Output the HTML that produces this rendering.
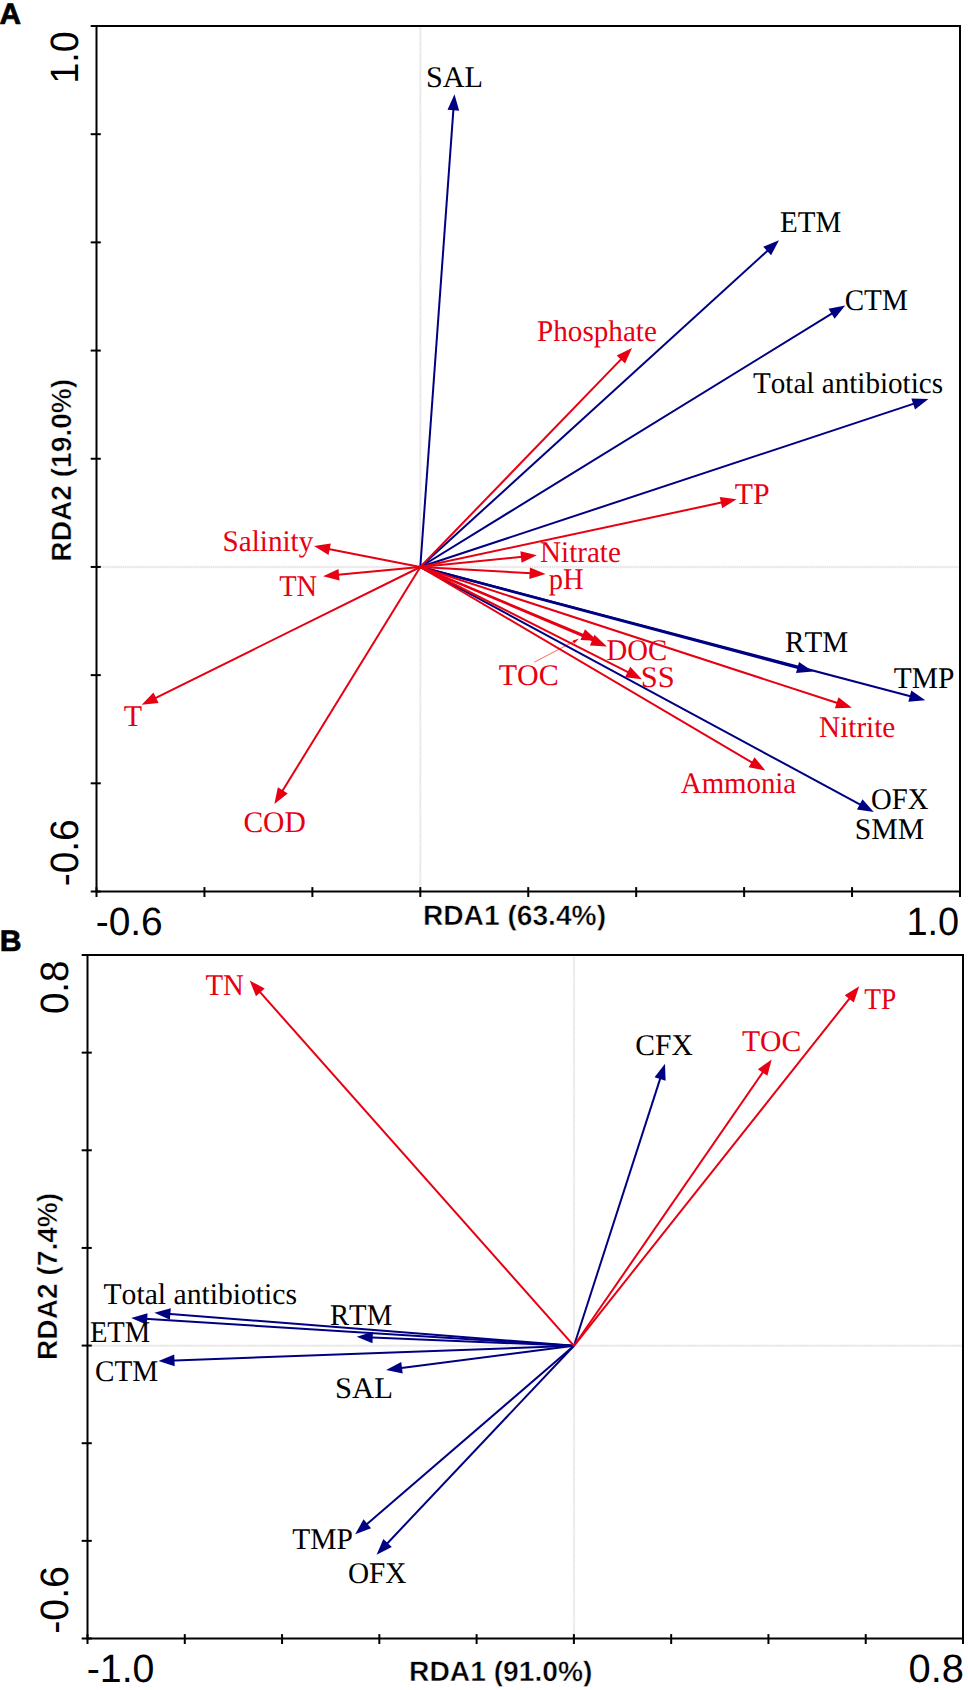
<!DOCTYPE html>
<html><head><meta charset="utf-8"><style>
html,body{margin:0;padding:0;background:#fff;overflow:hidden;width:968px;height:1690px;}
svg{display:block;}
text{font-kerning:none;text-rendering:geometricPrecision;white-space:pre;}
</style></head><body>
<svg width="968" height="1690" viewBox="0 0 968 1690">
<rect width="968" height="1690" fill="#fff"/>
<line x1="420.3" y1="26.0" x2="420.3" y2="891.5" stroke="#f4f4f4" stroke-width="2.4"/><line x1="420.3" y1="26.0" x2="420.3" y2="891.5" stroke="#e0e0e0" stroke-width="1.4" stroke-dasharray="1.1,1.1"/>
<line x1="96.5" y1="567.0" x2="960.0" y2="567.0" stroke="#f4f4f4" stroke-width="2.4"/><line x1="96.5" y1="567.0" x2="960.0" y2="567.0" stroke="#e0e0e0" stroke-width="1.4" stroke-dasharray="1.1,1.1"/>
<rect x="96.5" y="26.0" width="863.5" height="865.5" fill="none" stroke="#000" stroke-width="2.0"/><line x1="96.50" y1="887.10" x2="96.50" y2="897.00" stroke="#000" stroke-width="2.0"/><line x1="204.44" y1="887.10" x2="204.44" y2="897.00" stroke="#000" stroke-width="2.0"/><line x1="312.38" y1="887.10" x2="312.38" y2="897.00" stroke="#000" stroke-width="2.0"/><line x1="420.31" y1="887.10" x2="420.31" y2="897.00" stroke="#000" stroke-width="2.0"/><line x1="528.25" y1="887.10" x2="528.25" y2="897.00" stroke="#000" stroke-width="2.0"/><line x1="636.19" y1="887.10" x2="636.19" y2="897.00" stroke="#000" stroke-width="2.0"/><line x1="744.12" y1="887.10" x2="744.12" y2="897.00" stroke="#000" stroke-width="2.0"/><line x1="852.06" y1="887.10" x2="852.06" y2="897.00" stroke="#000" stroke-width="2.0"/><line x1="960.00" y1="887.10" x2="960.00" y2="897.00" stroke="#000" stroke-width="2.0"/><line x1="90.70" y1="26.00" x2="100.80" y2="26.00" stroke="#000" stroke-width="2.0"/><line x1="90.70" y1="134.19" x2="100.80" y2="134.19" stroke="#000" stroke-width="2.0"/><line x1="90.70" y1="242.38" x2="100.80" y2="242.38" stroke="#000" stroke-width="2.0"/><line x1="90.70" y1="350.56" x2="100.80" y2="350.56" stroke="#000" stroke-width="2.0"/><line x1="90.70" y1="458.75" x2="100.80" y2="458.75" stroke="#000" stroke-width="2.0"/><line x1="90.70" y1="566.94" x2="100.80" y2="566.94" stroke="#000" stroke-width="2.0"/><line x1="90.70" y1="675.12" x2="100.80" y2="675.12" stroke="#000" stroke-width="2.0"/><line x1="90.70" y1="783.31" x2="100.80" y2="783.31" stroke="#000" stroke-width="2.0"/><line x1="90.70" y1="891.50" x2="100.80" y2="891.50" stroke="#000" stroke-width="2.0"/>
<line x1="534.3" y1="662.2" x2="575.5" y2="640.6" stroke="#ff6a6a" stroke-width="1"/>
<polygon points="579.0,638.6 572.4,640.8 574.2,643.6" fill="#e60012"/>
<line x1="420.30" y1="567.00" x2="453.81" y2="103.87" stroke="#000082" stroke-width="2.0"/><polygon points="454.50,94.30 459.13,110.68 447.56,109.84" fill="#000082"/>
<line x1="420.30" y1="567.00" x2="771.90" y2="246.76" stroke="#000082" stroke-width="2.0"/><polygon points="779.00,240.30 771.08,255.36 763.27,246.79" fill="#000082"/>
<line x1="420.30" y1="567.00" x2="837.03" y2="310.43" stroke="#000082" stroke-width="2.0"/><polygon points="845.20,305.40 834.62,318.73 828.53,308.85" fill="#000082"/>
<line x1="420.30" y1="567.00" x2="919.29" y2="401.92" stroke="#000082" stroke-width="2.0"/><polygon points="928.40,398.90 915.03,409.43 911.39,398.42" fill="#000082"/>
<line x1="420.30" y1="567.00" x2="803.72" y2="669.13" stroke="#000082" stroke-width="2.7"/><polygon points="813.00,671.60 796.05,673.09 799.03,661.88" fill="#000082"/>
<line x1="420.30" y1="567.00" x2="916.02" y2="697.75" stroke="#000082" stroke-width="2.0"/><polygon points="925.30,700.20 908.35,701.73 911.31,690.51" fill="#000082"/>
<line x1="420.30" y1="567.00" x2="865.35" y2="807.34" stroke="#000082" stroke-width="2.0"/><polygon points="873.80,811.90 856.97,809.40 862.48,799.19" fill="#000082"/>
<line x1="420.30" y1="567.00" x2="625.33" y2="354.90" stroke="#e60012" stroke-width="2.0"/><polygon points="632.00,348.00 625.05,363.53 616.71,355.47" fill="#e60012"/>
<line x1="420.30" y1="567.00" x2="727.21" y2="501.31" stroke="#e60012" stroke-width="2.0"/><polygon points="736.60,499.30 722.17,508.32 719.74,496.98" fill="#e60012"/>
<line x1="420.30" y1="567.00" x2="527.35" y2="556.26" stroke="#e60012" stroke-width="2.0"/><polygon points="536.90,555.30 521.56,562.67 520.40,551.13" fill="#e60012"/>
<line x1="420.30" y1="567.00" x2="536.02" y2="573.56" stroke="#e60012" stroke-width="2.0"/><polygon points="545.60,574.10 529.30,578.99 529.95,567.40" fill="#e60012"/>
<line x1="420.30" y1="567.00" x2="588.64" y2="637.11" stroke="#e60012" stroke-width="2.0"/><polygon points="597.50,640.80 580.50,640.00 584.96,629.29" fill="#e60012"/>
<line x1="420.30" y1="567.00" x2="598.07" y2="642.64" stroke="#e60012" stroke-width="2.0"/><polygon points="606.90,646.40 589.91,645.47 594.45,634.80" fill="#e60012"/>
<line x1="420.30" y1="567.00" x2="633.34" y2="674.86" stroke="#e60012" stroke-width="2.0"/><polygon points="641.90,679.20 625.01,677.15 630.25,666.80" fill="#e60012"/>
<line x1="420.30" y1="567.00" x2="842.77" y2="704.82" stroke="#e60012" stroke-width="2.0"/><polygon points="851.90,707.80 834.89,708.35 838.49,697.32" fill="#e60012"/>
<line x1="420.30" y1="567.00" x2="757.13" y2="765.53" stroke="#e60012" stroke-width="2.0"/><polygon points="765.40,770.40 748.67,767.27 754.56,757.28" fill="#e60012"/>
<line x1="420.30" y1="567.00" x2="323.42" y2="547.95" stroke="#e60012" stroke-width="2.0"/><polygon points="314.00,546.10 330.82,543.50 328.58,554.88" fill="#e60012"/>
<line x1="420.30" y1="567.00" x2="332.66" y2="575.30" stroke="#e60012" stroke-width="2.0"/><polygon points="323.10,576.20 338.48,568.92 339.58,580.47" fill="#e60012"/>
<line x1="420.30" y1="567.00" x2="150.30" y2="700.54" stroke="#e60012" stroke-width="2.0"/><polygon points="141.70,704.80 153.47,692.51 158.61,702.91" fill="#e60012"/>
<line x1="420.30" y1="567.00" x2="279.43" y2="795.82" stroke="#e60012" stroke-width="2.0"/><polygon points="274.40,804.00 277.85,787.33 287.73,793.42" fill="#e60012"/>
<line x1="574.0" y1="955.0" x2="574.0" y2="1638.5" stroke="#f4f4f4" stroke-width="2.4"/><line x1="574.0" y1="955.0" x2="574.0" y2="1638.5" stroke="#e0e0e0" stroke-width="1.4" stroke-dasharray="1.1,1.1"/>
<line x1="87.5" y1="1345.8" x2="963.0" y2="1345.8" stroke="#f4f4f4" stroke-width="2.4"/><line x1="87.5" y1="1345.8" x2="963.0" y2="1345.8" stroke="#e0e0e0" stroke-width="1.4" stroke-dasharray="1.1,1.1"/>
<rect x="87.5" y="955.0" width="875.5" height="683.5" fill="none" stroke="#000" stroke-width="2.0"/><line x1="87.50" y1="1634.10" x2="87.50" y2="1644.00" stroke="#000" stroke-width="2.0"/><line x1="184.78" y1="1634.10" x2="184.78" y2="1644.00" stroke="#000" stroke-width="2.0"/><line x1="282.06" y1="1634.10" x2="282.06" y2="1644.00" stroke="#000" stroke-width="2.0"/><line x1="379.33" y1="1634.10" x2="379.33" y2="1644.00" stroke="#000" stroke-width="2.0"/><line x1="476.61" y1="1634.10" x2="476.61" y2="1644.00" stroke="#000" stroke-width="2.0"/><line x1="573.89" y1="1634.10" x2="573.89" y2="1644.00" stroke="#000" stroke-width="2.0"/><line x1="671.17" y1="1634.10" x2="671.17" y2="1644.00" stroke="#000" stroke-width="2.0"/><line x1="768.44" y1="1634.10" x2="768.44" y2="1644.00" stroke="#000" stroke-width="2.0"/><line x1="865.72" y1="1634.10" x2="865.72" y2="1644.00" stroke="#000" stroke-width="2.0"/><line x1="963.00" y1="1634.10" x2="963.00" y2="1644.00" stroke="#000" stroke-width="2.0"/><line x1="81.70" y1="955.00" x2="91.80" y2="955.00" stroke="#000" stroke-width="2.0"/><line x1="81.70" y1="1052.64" x2="91.80" y2="1052.64" stroke="#000" stroke-width="2.0"/><line x1="81.70" y1="1150.29" x2="91.80" y2="1150.29" stroke="#000" stroke-width="2.0"/><line x1="81.70" y1="1247.93" x2="91.80" y2="1247.93" stroke="#000" stroke-width="2.0"/><line x1="81.70" y1="1345.57" x2="91.80" y2="1345.57" stroke="#000" stroke-width="2.0"/><line x1="81.70" y1="1443.21" x2="91.80" y2="1443.21" stroke="#000" stroke-width="2.0"/><line x1="81.70" y1="1540.86" x2="91.80" y2="1540.86" stroke="#000" stroke-width="2.0"/><line x1="81.70" y1="1638.50" x2="91.80" y2="1638.50" stroke="#000" stroke-width="2.0"/>
<line x1="574.00" y1="1345.80" x2="662.05" y2="1072.84" stroke="#000082" stroke-width="2.0"/><polygon points="665.00,1063.70 665.61,1080.71 654.57,1077.15" fill="#000082"/>
<line x1="574.00" y1="1345.80" x2="163.97" y2="1313.45" stroke="#000082" stroke-width="2.0"/><polygon points="154.40,1312.70 170.81,1308.18 169.89,1319.74" fill="#000082"/>
<line x1="574.00" y1="1345.80" x2="140.78" y2="1318.60" stroke="#000082" stroke-width="2.0"/><polygon points="131.20,1318.00 147.53,1313.21 146.81,1324.79" fill="#000082"/>
<line x1="574.00" y1="1345.80" x2="366.29" y2="1337.20" stroke="#000082" stroke-width="2.0"/><polygon points="356.70,1336.80 372.93,1331.67 372.45,1343.26" fill="#000082"/>
<line x1="574.00" y1="1345.80" x2="168.09" y2="1360.65" stroke="#000082" stroke-width="2.0"/><polygon points="158.50,1361.00 174.28,1354.62 174.70,1366.21" fill="#000082"/>
<line x1="574.00" y1="1345.80" x2="395.62" y2="1368.68" stroke="#000082" stroke-width="2.0"/><polygon points="386.10,1369.90 401.23,1362.11 402.71,1373.62" fill="#000082"/>
<line x1="574.00" y1="1345.80" x2="362.47" y2="1527.94" stroke="#000082" stroke-width="2.0"/><polygon points="355.20,1534.20 363.54,1519.36 371.11,1528.16" fill="#000082"/>
<line x1="574.00" y1="1345.80" x2="383.19" y2="1547.72" stroke="#000082" stroke-width="2.0"/><polygon points="376.60,1554.70 383.37,1539.09 391.80,1547.05" fill="#000082"/>
<line x1="574.00" y1="1345.80" x2="256.07" y2="987.68" stroke="#e60012" stroke-width="2.0"/><polygon points="249.70,980.50 264.66,988.61 255.98,996.32" fill="#e60012"/>
<line x1="574.00" y1="1345.80" x2="766.25" y2="1067.30" stroke="#e60012" stroke-width="2.0"/><polygon points="771.70,1059.40 767.38,1075.86 757.84,1069.27" fill="#e60012"/>
<line x1="574.00" y1="1345.80" x2="853.23" y2="993.82" stroke="#e60012" stroke-width="2.0"/><polygon points="859.20,986.30 853.80,1002.44 844.71,995.23" fill="#e60012"/>
<text transform="translate(425.88,86.90) scale(1.0082,1)" style="font-family:&quot;Liberation Serif&quot;,serif;font-size:30px;font-weight:normal" fill="#000">SAL</text>
<text transform="translate(780.06,232.20) scale(0.9662,1)" style="font-family:&quot;Liberation Serif&quot;,serif;font-size:30px;font-weight:normal" fill="#000">ETM</text>
<text transform="translate(844.71,309.50) scale(0.9698,1)" style="font-family:&quot;Liberation Serif&quot;,serif;font-size:30px;font-weight:normal" fill="#000">CTM</text>
<text transform="translate(752.97,392.90) scale(0.9708,1)" style="font-family:&quot;Liberation Serif&quot;,serif;font-size:30px;font-weight:normal" fill="#000">Total antibiotics</text>
<text transform="translate(784.96,651.70) scale(0.9705,1)" style="font-family:&quot;Liberation Serif&quot;,serif;font-size:30px;font-weight:normal" fill="#000">RTM</text>
<text transform="translate(893.77,687.50) scale(0.9826,1)" style="font-family:&quot;Liberation Serif&quot;,serif;font-size:30px;font-weight:normal" fill="#000">TMP</text>
<text transform="translate(871.12,809.40) scale(0.9564,1)" style="font-family:&quot;Liberation Serif&quot;,serif;font-size:30px;font-weight:normal" fill="#000">OFX</text>
<text transform="translate(854.81,838.90) scale(0.9918,1)" style="font-family:&quot;Liberation Serif&quot;,serif;font-size:30px;font-weight:normal" fill="#000">SMM</text>
<text transform="translate(537.06,341.40) scale(0.9718,1)" style="font-family:&quot;Liberation Serif&quot;,serif;font-size:30px;font-weight:normal" fill="#e60012">Phosphate</text>
<text transform="translate(734.66,503.80) scale(0.9950,1)" style="font-family:&quot;Liberation Serif&quot;,serif;font-size:30px;font-weight:normal" fill="#e60012">TP</text>
<text transform="translate(540.06,562.20) scale(0.9694,1)" style="font-family:&quot;Liberation Serif&quot;,serif;font-size:30px;font-weight:normal" fill="#e60012">Nitrate</text>
<text transform="translate(548.74,589.00) scale(0.9489,1)" style="font-family:&quot;Liberation Serif&quot;,serif;font-size:30px;font-weight:normal" fill="#e60012">pH</text>
<text transform="translate(606.57,660.30) scale(0.9569,1)" style="font-family:&quot;Liberation Serif&quot;,serif;font-size:30px;font-weight:normal" fill="#e60012">DOC</text>
<text transform="translate(498.76,684.50) scale(1.0000,1)" style="font-family:&quot;Liberation Serif&quot;,serif;font-size:30px;font-weight:normal" fill="#e60012">TOC</text>
<text transform="translate(640.86,687.20) scale(1.0169,1)" style="font-family:&quot;Liberation Serif&quot;,serif;font-size:30px;font-weight:normal" fill="#e60012">SS</text>
<text transform="translate(819.06,737.10) scale(0.9737,1)" style="font-family:&quot;Liberation Serif&quot;,serif;font-size:30px;font-weight:normal" fill="#e60012">Nitrite</text>
<text transform="translate(680.82,793.00) scale(0.9607,1)" style="font-family:&quot;Liberation Serif&quot;,serif;font-size:30px;font-weight:normal" fill="#e60012">Ammonia</text>
<text transform="translate(222.55,551.10) scale(0.9724,1)" style="font-family:&quot;Liberation Serif&quot;,serif;font-size:30px;font-weight:normal" fill="#e60012">Salinity</text>
<text transform="translate(279.19,596.10) scale(0.9494,1)" style="font-family:&quot;Liberation Serif&quot;,serif;font-size:30px;font-weight:normal" fill="#e60012">TN</text>
<text transform="translate(123.86,726.30) scale(1.0009,1)" style="font-family:&quot;Liberation Serif&quot;,serif;font-size:30px;font-weight:normal" fill="#e60012">T</text>
<text transform="translate(243.39,831.70) scale(0.9851,1)" style="font-family:&quot;Liberation Serif&quot;,serif;font-size:30px;font-weight:normal" fill="#e60012">COD</text>
<text transform="translate(205.48,994.60) scale(0.9598,1)" style="font-family:&quot;Liberation Serif&quot;,serif;font-size:30px;font-weight:normal" fill="#e60012">TN</text>
<text transform="translate(864.30,1009.30) scale(0.9138,1)" style="font-family:&quot;Liberation Serif&quot;,serif;font-size:30px;font-weight:normal" fill="#e60012">TP</text>
<text transform="translate(741.96,1050.70) scale(0.9878,1)" style="font-family:&quot;Liberation Serif&quot;,serif;font-size:30px;font-weight:normal" fill="#e60012">TOC</text>
<text transform="translate(635.29,1055.40) scale(0.9861,1)" style="font-family:&quot;Liberation Serif&quot;,serif;font-size:30px;font-weight:normal" fill="#000">CFX</text>
<text transform="translate(103.46,1303.50) scale(0.9888,1)" style="font-family:&quot;Liberation Serif&quot;,serif;font-size:30px;font-weight:normal" fill="#000">Total antibiotics</text>
<text transform="translate(89.88,1341.70) scale(0.9532,1)" style="font-family:&quot;Liberation Serif&quot;,serif;font-size:30px;font-weight:normal" fill="#000">ETM</text>
<text transform="translate(329.97,1325.20) scale(0.9563,1)" style="font-family:&quot;Liberation Serif&quot;,serif;font-size:30px;font-weight:normal" fill="#000">RTM</text>
<text transform="translate(95.00,1380.80) scale(0.9730,1)" style="font-family:&quot;Liberation Serif&quot;,serif;font-size:30px;font-weight:normal" fill="#000">CTM</text>
<text transform="translate(334.95,1398.00) scale(1.0233,1)" style="font-family:&quot;Liberation Serif&quot;,serif;font-size:30px;font-weight:normal" fill="#000">SAL</text>
<text transform="translate(292.17,1549.30) scale(0.9826,1)" style="font-family:&quot;Liberation Serif&quot;,serif;font-size:30px;font-weight:normal" fill="#000">TMP</text>
<text transform="translate(347.90,1582.60) scale(0.9735,1)" style="font-family:&quot;Liberation Serif&quot;,serif;font-size:30px;font-weight:normal" fill="#000">OFX</text>
<text transform="translate(95.67,934.60) scale(0.9849,1)" style="font-family:&quot;Liberation Sans&quot;,sans-serif;font-size:39.5px;font-weight:normal" fill="#000">-0.6</text>
<text transform="translate(906.51,934.70) scale(0.9591,1)" style="font-family:&quot;Liberation Sans&quot;,sans-serif;font-size:39.5px;font-weight:normal" fill="#000">1.0</text>
<text transform="translate(86.65,1682.20) scale(0.9959,1)" style="font-family:&quot;Liberation Sans&quot;,sans-serif;font-size:39.5px;font-weight:normal" fill="#000">-1.0</text>
<text transform="translate(908.54,1682.20) scale(1.0087,1)" style="font-family:&quot;Liberation Sans&quot;,sans-serif;font-size:39.5px;font-weight:normal" fill="#000">0.8</text>
<text transform="translate(77.90,83.57) rotate(-90) scale(0.9532,1)" style="font-family:&quot;Liberation Sans&quot;,sans-serif;font-size:39.5px;font-weight:normal" fill="#000">1.0</text>
<text transform="translate(77.80,886.33) rotate(-90) scale(0.9849,1)" style="font-family:&quot;Liberation Sans&quot;,sans-serif;font-size:39.5px;font-weight:normal" fill="#000">-0.6</text>
<text transform="translate(67.80,1014.11) rotate(-90) scale(0.9758,1)" style="font-family:&quot;Liberation Sans&quot;,sans-serif;font-size:39.5px;font-weight:normal" fill="#000">0.8</text>
<text transform="translate(67.80,1633.85) rotate(-90) scale(0.9973,1)" style="font-family:&quot;Liberation Sans&quot;,sans-serif;font-size:39.5px;font-weight:normal" fill="#000">-0.6</text>
<text transform="translate(422.92,925.40) scale(1.0057,1)" style="font-family:&quot;Liberation Sans&quot;,sans-serif;font-size:28px;font-weight:bold" fill="#000" stroke="#fff" stroke-width="0.45">RDA1 (63.4%)</text>
<text transform="translate(409.01,1680.90) scale(1.0079,1)" style="font-family:&quot;Liberation Sans&quot;,sans-serif;font-size:28px;font-weight:bold" fill="#000" stroke="#fff" stroke-width="0.45">RDA1 (91.0%)</text>
<text transform="translate(71.20,561.68) rotate(-90) scale(1.0045,1)" style="font-family:&quot;Liberation Sans&quot;,sans-serif;font-size:28px;font-weight:bold" fill="#000" stroke="#fff" stroke-width="0.45">RDA2 (19.0%)</text>
<text transform="translate(57.20,1359.98) rotate(-90) scale(1.0042,1)" style="font-family:&quot;Liberation Sans&quot;,sans-serif;font-size:28px;font-weight:bold" fill="#000" stroke="#fff" stroke-width="0.45">RDA2 (7.4%)</text>
<text transform="translate(-0.44,23.60) scale(1.0105,1)" style="font-family:&quot;Liberation Sans&quot;,sans-serif;font-size:29.5px;font-weight:bold" fill="#000" stroke="#000" stroke-width="0.7">A</text>
<text transform="translate(-0.22,950.50) scale(1.0227,1)" style="font-family:&quot;Liberation Sans&quot;,sans-serif;font-size:29.5px;font-weight:bold" fill="#000" stroke="#000" stroke-width="0.7">B</text>
</svg>
</body></html>
